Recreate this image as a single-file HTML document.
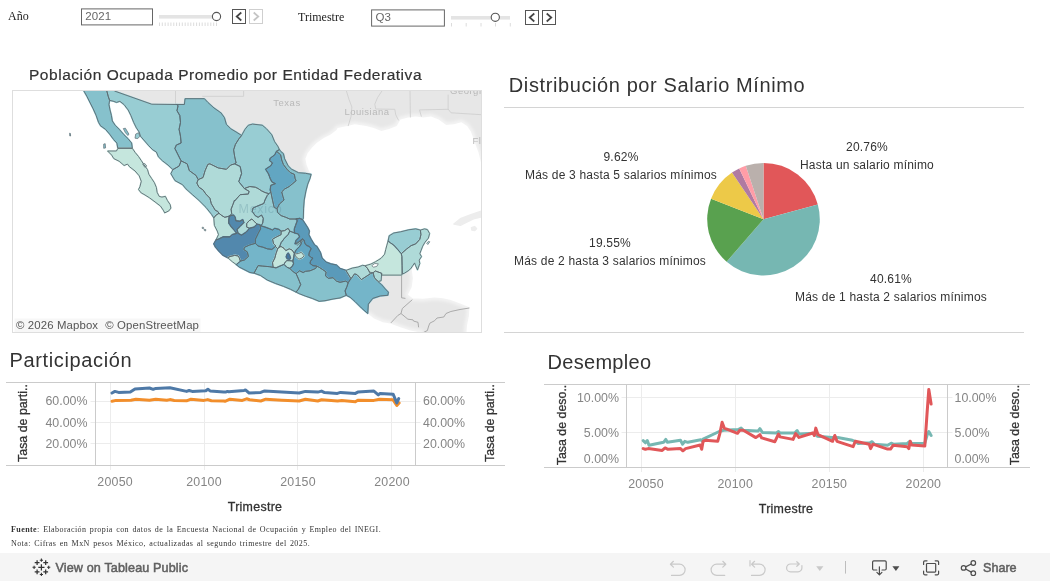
<!DOCTYPE html>
<html lang="es"><head><meta charset="utf-8"><title>Dashboard</title>
<style>
html,body{margin:0;padding:0;background:#fff;}
body{width:1050px;height:581px;position:relative;overflow:hidden;font-family:"Liberation Sans",sans-serif;color:#333;}
.abs{position:absolute;white-space:nowrap;}
.serif{font-family:"Liberation Serif",serif;}
.inp{position:absolute;box-sizing:border-box;border:0;background:transparent;height:17px;width:72px;font-family:"Liberation Sans",sans-serif;font-size:11.5px;color:#666;line-height:16px;padding-left:4px;letter-spacing:0.1px;}
.btn{position:absolute;box-sizing:border-box;width:14px;height:14px;border:1px solid #666;background:#fff;}
.btn.dis{border-color:#ccc;}
.tb{font-size:12.6px;line-height:15px;color:#606060;-webkit-text-stroke:0.5px #606060;}
.title20{font-size:20px;color:#333;}
.lab{letter-spacing:0.2px;font-size:12px;color:#333;text-align:center;line-height:18px;}
.ax{font-size:12px;color:#787878;}
svg{position:absolute;left:0;top:0;}
svg text{font-family:"Liberation Sans",sans-serif;font-size:12px;}
svg text.ax{font-size:12.4px;}
svg text.axt{font-size:12.4px;}
svg text.ax{fill:#858585;}
svg text.axt{fill:#333;stroke:#333;stroke-width:.3px;}
</style></head><body>

<!-- top parameter controls -->
<div class="abs serif" style="left:8px;top:9.3px;font-size:12px;line-height:14px;color:#222;">Año</div>
<div class="inp" style="left:81.3px;top:8.2px;">2021</div>
<div class="abs serif" style="left:298px;top:10.2px;font-size:12px;line-height:14px;color:#222;">Trimestre</div>
<div class="inp" style="left:371.5px;top:9.4px;width:74px;">Q3</div>

<!-- titles -->
<div class="abs" id="t1" style="left:29px;top:64.8px;-webkit-text-stroke:0.2px #333;font-size:15.5px;line-height:20px;letter-spacing:0.53px;">Población Ocupada Promedio por Entidad Federativa</div>
<div class="abs title20" id="t2" style="left:508.8px;top:72.3px;line-height:26px;letter-spacing:0.6px;">Distribución por Salario Mínimo</div>
<div class="abs title20" id="t3" style="left:9.5px;top:347px;line-height:26px;letter-spacing:0.64px;">Participación</div>
<div class="abs title20" id="t4" style="left:547.5px;top:349px;line-height:26px;letter-spacing:0.3px;">Desempleo</div>

<div class="abs" style="left:0;top:553px;width:1050px;height:28px;background:#f5f5f5;"></div>
<!-- MAP -->
<svg id="map" width="1050" height="581" viewBox="0 0 1050 581">
<defs><clipPath id="mc"><rect x="13" y="91" width="468" height="241"/></clipPath><filter id="cb" x="280" y="80" width="220" height="270" filterUnits="userSpaceOnUse"><feGaussianBlur stdDeviation="1.8"/></filter></defs>
<rect x="12.5" y="90.5" width="469" height="242" fill="#fff" stroke="#dedede"/>
<g clip-path="url(#mc)">
<path d="M114.4 88L114.4 91L151.6 104.2L177 104.5L184.4 104.5L185.1 98.7L204.4 98.7L207.8 102.4L214 108L220.9 112.8L224.4 117.6L226.4 124.5L230.5 128.6L236.1 132L241.6 135.5L245 129.3L248.4 125.2L252.6 124.1L262.2 125.2L266.3 128.6L271.8 134.8L274.6 141.7L277.7 146.1L279.4 149.6L280.6 151.3L283.4 153.6L284.6 158.8L288.1 165.8L291.5 169.2L298.4 172.7L305.4 173.3L311.1 174.4L308.8 170.4L306.5 164.6L305.4 158.8L307.7 153.1L312.3 147.3L316.9 142.7L323.8 138.1L330.7 134.6L336.5 130L337.6 128L347.1 126.1L354.8 124.2L366.2 126.1L373.8 128L381.4 130.9L389 129L396.7 126.1L400.5 119.4L408.1 117.5L415.7 116.6L423.3 117.5L431 116.6L438.6 119.4L446.2 125.1L453.8 124.2L461.4 122.3L467.1 126.1L471 131.8L475.7 145.1L478.6 152.8L481.4 164.2L482.4 171.8L484.3 171.8L484.3 88Z" fill="#e7e7e7"/>
<path d="M380 272L403 272L402.5 273.9L404.2 273.3L408.8 270.4L411.1 268.1L414.6 265.8L411.7 269.5L412.9 278.3L411.7 287.1L407.9 294.7L412.9 298.4L418 298.4L422.9 298.7L434.5 297.6L443 298.3L450.8 299.9L460.1 303.4L469.4 307.3L468.9 316.1L467 325.4L465.9 340L420 340L423 333L410.4 330.5L400.4 327.3L390.3 323.6L382.8 322.3L374 318.5L367.7 313.5L367.7 299.7Z" fill="#e7e7e7"/>
<path d="M311.1 174.4L308.8 170.4L306.5 164.6L305.4 158.8L307.7 153.1L312.3 147.3L316.9 142.7L323.8 138.1L330.7 134.6L336.5 130L337.6 128L347.1 126.1L354.8 124.2L366.2 126.1L373.8 128L381.4 130.9L389 129L396.7 126.1L400.5 119.4L408.1 117.5L415.7 116.6L423.3 117.5L431 116.6L438.6 119.4L446.2 125.1L453.8 124.2L461.4 122.3L467.1 126.1L471 131.8L475.7 145.1L478.6 152.8L481.4 164.2M414.6 265.8L411.7 269.5L412.9 278.3L411.7 287.1L407.9 294.7L412.9 298.4L418 298.4L422.9 298.7L434.5 297.6L443 298.3L450.8 299.9L460.1 303.4L469.4 307.3L468.9 316.1L467 325.4L465.9 340M423 333L410.4 330.5L400.4 327.3L390.3 323.6L382.8 322.3L374 318.5L367.7 313.5" fill="none" stroke="#fff" stroke-width="5.5" stroke-opacity=".5" stroke-linejoin="round" filter="url(#cb)"/>
<path d="M453.9 224L460.4 218.8L470.9 214.8L484 210.4L484 216.1L473.5 218.8L465.7 222.7L460.4 225.3ZM471.5 227.6L474.5 226.6L476.5 228.6L474.5 230.6L471.8 230Z" fill="#ededed" stroke="#ededed" stroke-width="1.5" stroke-linejoin="round"/>
<path d="M175.5 88L175.5 104.5M202.3 96.3L243.6 96.3L243.6 88M346.2 90.3L349 99.4L351.9 107L351 116.6L348.1 126.1M382.4 90.3L377.6 97.5L374.8 104.2L375.7 109L394.8 109.3L395.7 114.7L398.6 120.4M410 90.3L410.4 117.5M421.4 116.6L419.5 109.9L448.1 109.3L448.1 94.7M448.1 109L451 112.8L481.4 114.7" fill="none" stroke="#cdcdcd" stroke-width="0.8"/>
<path d="M401.6 275.2L401.6 297.8L405.4 298.4M412.3 299.7L402.3 308.5L401 313.5L397.9 315.4L390.9 322.9M401 313.5L407.9 319.2L412.9 319.8L413.6 321.1L418 322.3L418.6 327.3M423.6 332.4L427.4 330.5L428.7 326L429.9 323.1L434.5 320.8L437 318L443.8 317L446 313.5L450.8 311.5L460 309.5L469.4 308" fill="none" stroke="#9a9a9a" stroke-width="0.8"/>
<path d="M83.9 91L86.9 96.3L90.3 103.1L93.1 108.6L96.2 115.5L98.6 122.4L100.6 125.8L105.5 129.3L109.6 134.1L113.7 139.6L116.9 143L117.8 148.1L132.3 148.1L131.6 143L128.2 138.9L124 134.8L119.2 129.3L115.1 125.2L112.3 121L111.4 115.5L110 110L108.9 104.5L109.6 100.4L108.2 96.3L106.8 91L106.8 88L83.9 88Z" fill="#86c1cc" stroke="#86c1cc" stroke-width="1.6" stroke-linejoin="round"/>
<path d="M117.9 148.3L116.5 151L107.6 151L111.7 155.1L113.8 158.6L119.3 161.3L124.1 165.5L127.5 164.1L129.6 166.8L135.1 171L139.2 175.8L141.3 181.3L139.9 186.8L138.5 189.5L141.3 193L144 194.4L149.5 197.8L155 201.9L160.5 206.1L163.3 210.2L164.7 212.9L168.8 210.9L170.9 208.1L170.2 204.7L167.4 200.5L165.4 196.4L161.9 197.1L159.2 196.4L157.1 192.3L156.4 187.5L154.4 182.7L151.6 178.5L148.9 174.4L147.5 169.6L144 164.8L141.3 160.6L138.5 156.5L135.1 152.4L132.3 148.3Z" fill="#c5e6dd" stroke="#c5e6dd" stroke-width="1.6" stroke-linejoin="round"/>
<path d="M106.8 88L114.4 88L114.4 91L151.6 104.2L177 104.5L177 104.5L178 105.9L177 110.7L179.8 115.5L180.5 122.4L179.1 129.3L180.5 136.2L181.1 143L176.3 145.1L174.9 148.5L177.7 154.1L181.1 160.9L181.1 160.9L179.1 166.1L172.9 169.6L172.9 169.6L168.1 165.1L162.6 160.9L158.4 156.8L156.4 152L152.9 149.9L148.8 145.8L144.7 141L140.5 136.2L139.2 132L136.4 127.9L133.7 122.4L130.9 115.5L128.2 110L124 104.5L119.9 101.3L116.5 102.4L113 101.1L109.6 100.4L109.6 100.4L108.2 96.3L106.8 91Z" fill="#98cdd3" stroke="#98cdd3" stroke-width="1.6" stroke-linejoin="round"/>
<path d="M177 104.5L184.4 104.5L185.1 98.7L204.4 98.7L207.8 102.4L214 108L220.9 112.8L224.4 117.6L226.4 124.5L230.5 128.6L236.1 132L241.6 135.5L241.6 135.5L238.8 138.9L235.4 144.4L233.6 149.9L234.7 156.8L236.1 163L234.7 163.8L234.7 163.8L230.5 165.1L226.4 169.3L218.2 167.9L209.9 163.8L207.8 164.4L205.1 170.6L203 177.5L198.2 179.6L198.2 179.6L196.1 175.5L189.3 170.6L187.2 163.8L181.1 160.9L181.1 160.9L177.7 154.1L174.9 148.5L176.3 145.1L181.1 143L180.5 136.2L179.1 129.3L180.5 122.4L179.8 115.5L177 110.7L178 105.9L177 104.5Z" fill="#86c1cc" stroke="#86c1cc" stroke-width="1.6" stroke-linejoin="round"/>
<path d="M181.1 160.9L187.2 163.8L189.3 170.6L196.1 175.5L198.2 179.6L198.2 179.6L196.8 183L198.9 187.2L203 189.9L205.8 194L209.9 198.2L211.3 203.7L215.4 210.5L217.5 211.2L219 213.3L216.1 215L213.8 217.9L213.8 217.9L211.5 214.3L206 207.4L199.1 200.5L192.2 194.4L186 188.9L182.6 184.7L175 180.6L170.9 173.7L172.9 169.6L172.9 169.6L179.1 166.1L181.1 160.9Z" fill="#98cdd3" stroke="#98cdd3" stroke-width="1.6" stroke-linejoin="round"/>
<path d="M198.2 179.6L203 177.5L205.1 170.6L207.8 164.4L209.9 163.8L218.2 167.9L226.4 169.3L230.5 165.1L234.7 163.8L234.7 163.8L240.2 166.5L241.6 173.4L238.8 181.6L244.3 188.5L244.3 188.5L249.1 191.3L248.4 194L240.2 194.7L234.7 200.9L234.6 200L232.9 204.6L231.1 209.2L231.7 213.8L229.4 216.1L229.4 216.1L224.8 217.3L221.9 215.6L219 213.3L217.5 211.2L215.4 210.5L211.3 203.7L209.9 198.2L205.8 194L203 189.9L198.9 187.2L196.8 183L198.2 179.6Z" fill="#afdad8" stroke="#afdad8" stroke-width="1.6" stroke-linejoin="round"/>
<path d="M241.6 135.5L245 129.3L248.4 125.2L252.6 124.1L262.2 125.2L266.3 128.6L271.8 134.8L274.6 141.7L277.7 146.1L279.4 149.6L276.5 151.3L274.8 154.8L270.2 158.3L269.6 160.6L272.5 162.9L270.8 165.8L265.6 169.2L268.5 173.8L270.2 178.4L271.9 181.9L275.4 183.6L270.8 185.4L270.2 190L270.8 191.9L269 193.7L269 193.7L265 192.5L261.5 190.8L258.1 188.5L255.3 187.2L249.8 186.5L244.3 188.5L244.3 188.5L238.8 181.6L241.6 173.4L240.2 166.5L234.7 163.8L234.7 163.8L236.1 163L234.7 156.8L233.6 149.9L235.4 144.4L238.8 138.9L241.6 135.5Z" fill="#98cdd3" stroke="#98cdd3" stroke-width="1.6" stroke-linejoin="round"/>
<path d="M276.5 151.3L280.6 154.8L281.7 160L283.4 164.6L286.9 169.2L290.4 172.7L294.4 174.4L295 178.4L296.1 180.7L292.7 183.6L289.2 186.5L284.6 189L281.7 191.9L282.9 196.5L284 200L279.4 204L277.1 208.6L277.1 208.6L274.2 207.5L272.5 200L270.8 191.9L270.2 190L270.8 185.4L275.4 183.6L271.9 181.9L270.2 178.4L268.5 173.8L265.6 169.2L270.8 165.8L272.5 162.9L269.6 160.6L270.2 158.3L274.8 154.8L276.5 151.3Z" fill="#62a6c2" stroke="#62a6c2" stroke-width="1.6" stroke-linejoin="round"/>
<path d="M279.4 149.6L280.6 151.3L283.4 153.6L284.6 158.8L288.1 165.8L291.5 169.2L298.4 172.7L305.4 173.3L311.1 174.4L311.1 174.4L310 178.4L307.7 184.2L305.9 191.1L304.2 200L303.6 208.1L303.3 218.4L302.5 219.6L302.5 219.6L299.6 218.4L296.1 219L289.8 219L285.8 217.3L281.1 215.6L277.7 212.7L277.1 208.6L277.1 208.6L279.4 204L284 200L282.9 196.5L281.7 191.9L284.6 189L289.2 186.5L292.7 183.6L296.1 180.7L295 178.4L294.4 174.4L290.4 172.7L286.9 169.2L283.4 164.6L281.7 160L280.6 154.8L276.5 151.3L279.4 149.6Z" fill="#86c1cc" stroke="#86c1cc" stroke-width="1.6" stroke-linejoin="round"/>
<path d="M244.3 188.5L249.8 186.5L255.3 187.2L258.1 188.5L261.5 190.8L265 192.5L269 193.7L269 193.7L267.3 195.4L265 200L263.8 203.5L256.9 206.3L252.9 208.1L252.3 211.5L255.2 215.6L258.1 217.3L261.5 215L263.3 218.4L262.7 223.1L261 225.9L260 224.8L257.1 224.2L254.8 221.9L251.9 219L249 220.8L246.7 223.6L246.7 227.1L249.6 228.3L246.1 232.3L241.5 235.2L238.1 233.4L236.9 229.4L240.4 226L243.8 222.5L242.7 219.6L239.8 221.3L235.8 220.8L235.2 217.3L233.4 215L229.4 216.1L231.7 213.8L231.1 209.2L232.9 204.6L234.6 200L234.7 200.9L240.2 194.7L248.4 194L249.1 191.3L244.3 188.5Z" fill="#afdad8" stroke="#afdad8" stroke-width="1.6" stroke-linejoin="round"/>
<path d="M246.7 223.6L249 220.8L251.9 219L254.8 221.9L257.1 224.2L254.2 227.1L249.6 228.3L246.7 227.1Z" fill="#b9e0da" stroke="#b9e0da" stroke-width="1.6" stroke-linejoin="round"/>
<path d="M269 193.7L270.8 191.9L272.5 200L274.2 207.5L277.1 208.6L277.1 208.6L277.7 212.7L281.1 215.6L285.8 217.3L289.8 219L296.1 219L299.6 218.4L296.1 219L297.3 220.8L295.6 225.4L294.4 228.8L294.4 232.9L289.8 231.1L288.1 228.3L284.6 230.6L281.1 231.1L278.8 229.4L274.8 228.3L272.5 230L269.6 228.8L265 227.1L261 225.9L261 225.9L262.7 223.1L263.3 218.4L261.5 215L258.1 217.3L255.2 215.6L252.3 211.5L252.9 208.1L256.9 206.3L263.8 203.5L265 200L267.3 195.4L269 193.7Z" fill="#98cdd3" stroke="#98cdd3" stroke-width="1.6" stroke-linejoin="round"/>
<path d="M213.8 217.9L216.1 215L219 213.3L219 213.3L221.9 215.6L224.8 217.3L229.4 216.1L228.8 220.2L228.8 223.1L231.1 226.5L234.6 230.6L236.9 233.4L232.3 234.6L230 236.9L223.1 236.9L218.5 239.2L216.1 239.8L218.5 234.6L217.3 231.1L214.4 225.4Z" fill="#b9e0da" stroke="#b9e0da" stroke-width="1.6" stroke-linejoin="round"/>
<path d="M216.1 239.8L218.5 239.2L223.1 236.9L230 236.9L232.3 234.6L236.9 233.4L234.6 230.6L231.1 226.5L228.8 223.1L228.8 220.2L229.4 216.1L233.4 215L235.2 217.3L235.8 220.8L239.8 221.3L242.7 219.6L243.8 222.5L240.4 226L236.9 229.4L238.1 233.4L241.5 235.2L246.1 232.3L249.6 228.3L254.2 227.1L257.1 224.2L260 224.8L260.6 228.8L258.2 233.4L255.4 239.2L255.4 243.3L249.6 245L244.4 247.3L243.8 249.6L247.3 251.9L248.4 256.5L244.4 260L240.4 261.1L239.2 257.7L238.1 255.9L234.6 255.4L230 256.5L227.7 257.7L223.1 255.4L219 251.3L215.6 247.3L213.8 243.8Z" fill="#5288ad" stroke="#5288ad" stroke-width="1.6" stroke-linejoin="round"/>
<path d="M227.7 257.7L230 256.5L234.6 255.4L238.1 255.9L239.2 257.7L240.4 261.1L238.6 262.9L236.3 264.6L232.3 261.7Z" fill="#c5e6dd" stroke="#c5e6dd" stroke-width="1.6" stroke-linejoin="round"/>
<path d="M236.3 264.6L238.6 262.9L240.4 261.1L244.4 260L248.4 256.5L247.3 251.9L243.8 249.6L244.4 247.3L249.6 245L255.4 243.3L258.1 246L262.7 247.1L267.3 248.8L271.9 249.4L275.4 246.5L275.4 246.5L277.7 248.8L276 253.5L274.8 258.1L272.5 262.7L273.1 267.3L273.1 267.3L269.6 266.7L262.7 266.1L258.1 265.6L254 273.1L250 272.5L239.2 267Z" fill="#74b5c9" stroke="#74b5c9" stroke-width="1.6" stroke-linejoin="round"/>
<path d="M261 225.9L265 227.1L269.6 228.8L272.5 230L274.8 228.3L278.8 229.4L281.1 231.1L281.1 234.6L276.5 236.9L272.5 239.2L273.6 243.8L276 246.1L275.4 246.5L271.9 249.4L267.3 248.8L262.7 247.1L258.1 246L255.4 243.3L255.4 243.3L255.4 239.2L258.2 233.4L260.6 228.8L260 224.8Z" fill="#62a6c2" stroke="#62a6c2" stroke-width="1.6" stroke-linejoin="round"/>
<path d="M281.1 231.1L284.6 230.6L288.1 228.3L289.8 231.1L288.1 234.6L284.6 238.1L281.1 242.7L279.4 247.3L277.7 248.8L275.4 246.5L276 246.1L273.6 243.8L272.5 239.2L276.5 236.9L281.1 234.6L281.1 231.1Z" fill="#afdad8" stroke="#afdad8" stroke-width="1.6" stroke-linejoin="round"/>
<path d="M289.8 231.1L294.4 232.9L298.4 234L299.6 236.9L296.1 240.4L295 243.8L298.4 242.7L301.9 239.2L302.5 239L300.7 240.8L301.3 243.7L299.6 246.5L296.1 250L294.4 253.5L292.1 250L289.2 248.8L285.8 250.6L284 248.3L281.1 246.5L278.8 247.1L279.4 247.3L281.1 242.7L284.6 238.1L288.1 234.6Z" fill="#98cdd3" stroke="#98cdd3" stroke-width="1.6" stroke-linejoin="round"/>
<path d="M278.8 247.1L281.1 246.5L284 248.3L285.8 250.6L289.2 248.8L292.1 250L294.4 253.5L293.6 258.1L292.9 261L289.8 260.6L286.9 260.6L285.2 262.1L284 264.4L280 266.1L276 267.9L273.1 267.3L272.5 262.7L274.8 258.1L276 253.5L277.7 248.8Z" fill="#c5e6dd" stroke="#c5e6dd" stroke-width="1.6" stroke-linejoin="round"/>
<path d="M288.2 253L289.6 255.5L290.5 258.1L289.6 259.3L287.3 258.9L286.2 256.9L287 254.4Z" fill="#4678a3" stroke="#4678a3" stroke-width="1.6" stroke-linejoin="round"/>
<path d="M285.2 262.1L286.9 260.6L292.9 261L293.6 263.8L292.1 266.7L289.8 268.4L286.9 267.3L284 264.4Z" fill="#b9e0da" stroke="#b9e0da" stroke-width="1.6" stroke-linejoin="round"/>
<path d="M294.4 253.5L296.1 250L299.6 246.5L301.3 243.7L300.7 240.8L302.5 239L304.2 240.2L304.8 243.1L306.5 245.4L309.4 246.5L311.1 248.8L309.4 252.3L308.8 255.2L311.1 257.5L312.9 258.1L310.6 261L310 263.3L312.9 265.6L316.9 266.1L315.7 268.4L310 270.8L305.4 271.3L303.1 272.5L299.6 270.8L296.1 273.6L293.3 271.9L289.8 268.4L292.1 266.7L293.6 263.8L292.9 261L293.6 258.1Z" fill="#62a6c2" stroke="#62a6c2" stroke-width="1.6" stroke-linejoin="round"/>
<path d="M294.4 254L298.4 253.5L301.3 252.3L304.2 255.8L301.9 258.1L299 259.2L296.1 256.9Z" fill="#c5e6dd" stroke="#c5e6dd" stroke-width="1.6" stroke-linejoin="round"/>
<path d="M296.1 219L299.6 218.4L302.5 219.6L304.8 223.1L307.7 227.7L309.4 231.1L308.8 234.6L311.1 239.2L314.6 245L316.9 246.5L320.4 252.3L322.1 258.1L326.1 262.1L330.7 263.8L336.5 265L340 268.4L345.7 270.2L350.7 278.3L348.2 282.7L345.7 281.1L340 282.3L336.5 281.1L333 277.7L328.4 278.3L325.5 275.9L326.1 271.9L322.7 269.6L319.2 267.3L316.9 266.1L316.9 266.1L312.9 265.6L310 263.3L310.6 261L312.9 258.1L311.1 257.5L308.8 255.2L309.4 252.3L311.1 248.8L309.4 246.5L306.5 245.4L304.8 243.1L304.2 240.2L302.5 239L298.4 242.7L295 243.8L296.1 240.4L299.6 236.9L298.4 234L294.4 232.9L294.4 228.8L295.6 225.4L297.3 220.8Z" fill="#5a9aba" stroke="#5a9aba" stroke-width="1.6" stroke-linejoin="round"/>
<path d="M254 273.1L258.1 265.6L262.7 266.1L269.6 266.7L273.1 267.3L276 267.9L280 266.1L284 264.4L286.9 267.3L289.8 268.4L293.3 271.9L296.1 273.6L298.4 278.8L300.7 284.6L298.4 289.2L296.1 292.1L290.4 289.2L283.4 286.3L275.4 283.4L267.3 280L260.4 275.4Z" fill="#86c1cc" stroke="#86c1cc" stroke-width="1.6" stroke-linejoin="round"/>
<path d="M296.1 273.6L299.6 270.8L303.1 272.5L305.4 271.3L310 270.8L315.7 268.4L316.9 266.1L319.2 267.3L322.7 269.6L326.1 271.9L325.5 275.9L328.4 278.3L333 277.7L336.5 281.1L340 282.3L345.7 281.1L348.2 282.7L347 286.5L345.1 290.9L346.3 295.3L340 297.9L333 299L325 300.7L319.2 301.3L312.3 298.4L305.4 296.1L299.6 293.8L296.1 292.1L298.4 289.2L300.7 284.6L298.4 278.8L296.1 273.6Z" fill="#86c1cc" stroke="#86c1cc" stroke-width="1.6" stroke-linejoin="round"/>
<path d="M348.2 282.7L351.4 278.3L354.5 273.9L357 274.6L361.4 279.6L370.2 273.9L373.1 272.8L374 277.1L377.8 281.5L381.5 284.6L385.3 289L388.4 292.2L387.8 295.3L380.3 295.9L372.7 298.4L368.3 304.1L367.7 313.5L361.4 307.9L355.1 301.6L350.1 297.2L346.3 295.3L345.1 290.9L347 286.5Z" fill="#74b5c9" stroke="#74b5c9" stroke-width="1.6" stroke-linejoin="round"/>
<path d="M346 270.4L352.3 268.1L358.1 267L362.7 265.3L365 265.8L367.3 268.1L369.6 272.2L370.2 273.9L361.4 279.6L357 274.6L354.5 273.9L351.4 278.3L350.7 278.3Z" fill="#afdad8" stroke="#afdad8" stroke-width="1.6" stroke-linejoin="round"/>
<path d="M373.1 272.7L375.4 271L381.7 273.3L381.1 280.8L378.3 281.4L374.8 278.5Z" fill="#afdad8" stroke="#afdad8" stroke-width="1.6" stroke-linejoin="round"/>
<path d="M388.1 241L390.4 242.8L393.8 245.1L397.9 249.7L401.3 253.7L401.9 256.6L402.1 265.8L401.9 275.1L381.7 275.1L381.7 273.3L375.4 271L373.1 272.7L369.6 272.2L367.3 268.1L365 265.8L370.8 264.1L375.4 261.8L381.1 258.3L384.6 254.3L385.7 249.7L386.9 245.1Z" fill="#c5e6dd" stroke="#c5e6dd" stroke-width="1.6" stroke-linejoin="round"/>
<path d="M388.1 241L389.2 235.8L393.8 233L400.7 231.8L408.8 229.8L415.7 228.9L420.4 230.1L420.9 234.7L419.8 239.3L415.7 243.9L411.1 245.6L406.5 249.1L401.3 253.7L397.9 249.7L393.8 245.1L390.4 242.8Z" fill="#98cdd3" stroke="#98cdd3" stroke-width="1.6" stroke-linejoin="round"/>
<path d="M420.4 230.1L424.4 228.9L427.3 229.5L429.6 233.5L428.4 238.1L425 242.2L422.7 246.2L420.9 250.8L419.8 253.7L421.5 256.6L419.2 260.1L419.8 263.5L417.5 269.9L415.7 265.8L414.6 262.9L411.1 268.1L408.8 270.4L404.2 273.3L402.5 273.9L402.1 265.8L401.9 256.6L401.3 253.7L406.5 249.1L411.1 245.6L415.7 243.9L419.8 239.3L420.9 234.7Z" fill="#afdad8" stroke="#afdad8" stroke-width="1.6" stroke-linejoin="round"/>
<path d="M123.3 128.6L125.4 128.2L128.9 134.1L127.9 135.5L125.4 132.7Z" fill="#86c1cc"/>
<path d="M135.7 134.1L138.5 132.7L139.9 136.2L137.8 138.6L135 138.2Z" fill="#98cdd3"/>
<path d="M103.7 144.1L105.2 143.7L105.6 147.9L103.7 148.3Z" fill="#86c1cc"/>
<path d="M426.7 243.3L428.4 241.4L429.8 241.8L427.8 244.5Z" fill="#afdad8"/>
<path d="M142.7 164.1L144.7 163.4L146.8 166.1L144.7 167.2Z" fill="#c5e6dd"/>
<path d="M295.3 243.6L301.8 239.4L303.2 240.9L297 245.4Z" fill="#98cdd3"/>
<path d="M69.6 133.2L70.4 133.4L70.6 136L69.8 136Z" fill="#86c1cc"/>
<path d="M202.2 227.2L203.6 227.4L203.4 228.8L202.2 228.4Z" fill="#b9e0da"/>
<path d="M204.2 229.2L205.8 229.6L205.6 231L204.4 230.6Z" fill="#b9e0da"/>
<path d="M371.9 265.6L374.8 263.5L378.3 263.8L376.8 266.4L373.3 267.2Z" fill="#fff"/>
<path d="M83.9 91L86.9 96.3L90.3 103.1L93.1 108.6L96.2 115.5L98.6 122.4L100.6 125.8L105.5 129.3L109.6 134.1L113.7 139.6L116.9 143L117.8 148.1L132.3 148.1L131.6 143L128.2 138.9L124 134.8L119.2 129.3L115.1 125.2L112.3 121L111.4 115.5L110 110L108.9 104.5L109.6 100.4L108.2 96.3L106.8 91L106.8 88L83.9 88ZM117.9 148.3L116.5 151L107.6 151L111.7 155.1L113.8 158.6L119.3 161.3L124.1 165.5L127.5 164.1L129.6 166.8L135.1 171L139.2 175.8L141.3 181.3L139.9 186.8L138.5 189.5L141.3 193L144 194.4L149.5 197.8L155 201.9L160.5 206.1L163.3 210.2L164.7 212.9L168.8 210.9L170.9 208.1L170.2 204.7L167.4 200.5L165.4 196.4L161.9 197.1L159.2 196.4L157.1 192.3L156.4 187.5L154.4 182.7L151.6 178.5L148.9 174.4L147.5 169.6L144 164.8L141.3 160.6L138.5 156.5L135.1 152.4L132.3 148.3ZM106.8 88L114.4 88L114.4 91L151.6 104.2L177 104.5L177 104.5L178 105.9L177 110.7L179.8 115.5L180.5 122.4L179.1 129.3L180.5 136.2L181.1 143L176.3 145.1L174.9 148.5L177.7 154.1L181.1 160.9L181.1 160.9L179.1 166.1L172.9 169.6L172.9 169.6L168.1 165.1L162.6 160.9L158.4 156.8L156.4 152L152.9 149.9L148.8 145.8L144.7 141L140.5 136.2L139.2 132L136.4 127.9L133.7 122.4L130.9 115.5L128.2 110L124 104.5L119.9 101.3L116.5 102.4L113 101.1L109.6 100.4L109.6 100.4L108.2 96.3L106.8 91ZM177 104.5L184.4 104.5L185.1 98.7L204.4 98.7L207.8 102.4L214 108L220.9 112.8L224.4 117.6L226.4 124.5L230.5 128.6L236.1 132L241.6 135.5L241.6 135.5L238.8 138.9L235.4 144.4L233.6 149.9L234.7 156.8L236.1 163L234.7 163.8L234.7 163.8L230.5 165.1L226.4 169.3L218.2 167.9L209.9 163.8L207.8 164.4L205.1 170.6L203 177.5L198.2 179.6L198.2 179.6L196.1 175.5L189.3 170.6L187.2 163.8L181.1 160.9L181.1 160.9L177.7 154.1L174.9 148.5L176.3 145.1L181.1 143L180.5 136.2L179.1 129.3L180.5 122.4L179.8 115.5L177 110.7L178 105.9L177 104.5ZM181.1 160.9L187.2 163.8L189.3 170.6L196.1 175.5L198.2 179.6L198.2 179.6L196.8 183L198.9 187.2L203 189.9L205.8 194L209.9 198.2L211.3 203.7L215.4 210.5L217.5 211.2L219 213.3L216.1 215L213.8 217.9L213.8 217.9L211.5 214.3L206 207.4L199.1 200.5L192.2 194.4L186 188.9L182.6 184.7L175 180.6L170.9 173.7L172.9 169.6L172.9 169.6L179.1 166.1L181.1 160.9ZM198.2 179.6L203 177.5L205.1 170.6L207.8 164.4L209.9 163.8L218.2 167.9L226.4 169.3L230.5 165.1L234.7 163.8L234.7 163.8L240.2 166.5L241.6 173.4L238.8 181.6L244.3 188.5L244.3 188.5L249.1 191.3L248.4 194L240.2 194.7L234.7 200.9L234.6 200L232.9 204.6L231.1 209.2L231.7 213.8L229.4 216.1L229.4 216.1L224.8 217.3L221.9 215.6L219 213.3L217.5 211.2L215.4 210.5L211.3 203.7L209.9 198.2L205.8 194L203 189.9L198.9 187.2L196.8 183L198.2 179.6ZM241.6 135.5L245 129.3L248.4 125.2L252.6 124.1L262.2 125.2L266.3 128.6L271.8 134.8L274.6 141.7L277.7 146.1L279.4 149.6L276.5 151.3L274.8 154.8L270.2 158.3L269.6 160.6L272.5 162.9L270.8 165.8L265.6 169.2L268.5 173.8L270.2 178.4L271.9 181.9L275.4 183.6L270.8 185.4L270.2 190L270.8 191.9L269 193.7L269 193.7L265 192.5L261.5 190.8L258.1 188.5L255.3 187.2L249.8 186.5L244.3 188.5L244.3 188.5L238.8 181.6L241.6 173.4L240.2 166.5L234.7 163.8L234.7 163.8L236.1 163L234.7 156.8L233.6 149.9L235.4 144.4L238.8 138.9L241.6 135.5ZM276.5 151.3L280.6 154.8L281.7 160L283.4 164.6L286.9 169.2L290.4 172.7L294.4 174.4L295 178.4L296.1 180.7L292.7 183.6L289.2 186.5L284.6 189L281.7 191.9L282.9 196.5L284 200L279.4 204L277.1 208.6L277.1 208.6L274.2 207.5L272.5 200L270.8 191.9L270.2 190L270.8 185.4L275.4 183.6L271.9 181.9L270.2 178.4L268.5 173.8L265.6 169.2L270.8 165.8L272.5 162.9L269.6 160.6L270.2 158.3L274.8 154.8L276.5 151.3ZM279.4 149.6L280.6 151.3L283.4 153.6L284.6 158.8L288.1 165.8L291.5 169.2L298.4 172.7L305.4 173.3L311.1 174.4L311.1 174.4L310 178.4L307.7 184.2L305.9 191.1L304.2 200L303.6 208.1L303.3 218.4L302.5 219.6L302.5 219.6L299.6 218.4L296.1 219L289.8 219L285.8 217.3L281.1 215.6L277.7 212.7L277.1 208.6L277.1 208.6L279.4 204L284 200L282.9 196.5L281.7 191.9L284.6 189L289.2 186.5L292.7 183.6L296.1 180.7L295 178.4L294.4 174.4L290.4 172.7L286.9 169.2L283.4 164.6L281.7 160L280.6 154.8L276.5 151.3L279.4 149.6ZM244.3 188.5L249.8 186.5L255.3 187.2L258.1 188.5L261.5 190.8L265 192.5L269 193.7L269 193.7L267.3 195.4L265 200L263.8 203.5L256.9 206.3L252.9 208.1L252.3 211.5L255.2 215.6L258.1 217.3L261.5 215L263.3 218.4L262.7 223.1L261 225.9L260 224.8L257.1 224.2L254.8 221.9L251.9 219L249 220.8L246.7 223.6L246.7 227.1L249.6 228.3L246.1 232.3L241.5 235.2L238.1 233.4L236.9 229.4L240.4 226L243.8 222.5L242.7 219.6L239.8 221.3L235.8 220.8L235.2 217.3L233.4 215L229.4 216.1L231.7 213.8L231.1 209.2L232.9 204.6L234.6 200L234.7 200.9L240.2 194.7L248.4 194L249.1 191.3L244.3 188.5ZM246.7 223.6L249 220.8L251.9 219L254.8 221.9L257.1 224.2L254.2 227.1L249.6 228.3L246.7 227.1ZM269 193.7L270.8 191.9L272.5 200L274.2 207.5L277.1 208.6L277.1 208.6L277.7 212.7L281.1 215.6L285.8 217.3L289.8 219L296.1 219L299.6 218.4L296.1 219L297.3 220.8L295.6 225.4L294.4 228.8L294.4 232.9L289.8 231.1L288.1 228.3L284.6 230.6L281.1 231.1L278.8 229.4L274.8 228.3L272.5 230L269.6 228.8L265 227.1L261 225.9L261 225.9L262.7 223.1L263.3 218.4L261.5 215L258.1 217.3L255.2 215.6L252.3 211.5L252.9 208.1L256.9 206.3L263.8 203.5L265 200L267.3 195.4L269 193.7ZM213.8 217.9L216.1 215L219 213.3L219 213.3L221.9 215.6L224.8 217.3L229.4 216.1L228.8 220.2L228.8 223.1L231.1 226.5L234.6 230.6L236.9 233.4L232.3 234.6L230 236.9L223.1 236.9L218.5 239.2L216.1 239.8L218.5 234.6L217.3 231.1L214.4 225.4ZM216.1 239.8L218.5 239.2L223.1 236.9L230 236.9L232.3 234.6L236.9 233.4L234.6 230.6L231.1 226.5L228.8 223.1L228.8 220.2L229.4 216.1L233.4 215L235.2 217.3L235.8 220.8L239.8 221.3L242.7 219.6L243.8 222.5L240.4 226L236.9 229.4L238.1 233.4L241.5 235.2L246.1 232.3L249.6 228.3L254.2 227.1L257.1 224.2L260 224.8L260.6 228.8L258.2 233.4L255.4 239.2L255.4 243.3L249.6 245L244.4 247.3L243.8 249.6L247.3 251.9L248.4 256.5L244.4 260L240.4 261.1L239.2 257.7L238.1 255.9L234.6 255.4L230 256.5L227.7 257.7L223.1 255.4L219 251.3L215.6 247.3L213.8 243.8ZM227.7 257.7L230 256.5L234.6 255.4L238.1 255.9L239.2 257.7L240.4 261.1L238.6 262.9L236.3 264.6L232.3 261.7ZM236.3 264.6L238.6 262.9L240.4 261.1L244.4 260L248.4 256.5L247.3 251.9L243.8 249.6L244.4 247.3L249.6 245L255.4 243.3L258.1 246L262.7 247.1L267.3 248.8L271.9 249.4L275.4 246.5L275.4 246.5L277.7 248.8L276 253.5L274.8 258.1L272.5 262.7L273.1 267.3L273.1 267.3L269.6 266.7L262.7 266.1L258.1 265.6L254 273.1L250 272.5L239.2 267ZM261 225.9L265 227.1L269.6 228.8L272.5 230L274.8 228.3L278.8 229.4L281.1 231.1L281.1 234.6L276.5 236.9L272.5 239.2L273.6 243.8L276 246.1L275.4 246.5L271.9 249.4L267.3 248.8L262.7 247.1L258.1 246L255.4 243.3L255.4 243.3L255.4 239.2L258.2 233.4L260.6 228.8L260 224.8ZM281.1 231.1L284.6 230.6L288.1 228.3L289.8 231.1L288.1 234.6L284.6 238.1L281.1 242.7L279.4 247.3L277.7 248.8L275.4 246.5L276 246.1L273.6 243.8L272.5 239.2L276.5 236.9L281.1 234.6L281.1 231.1ZM289.8 231.1L294.4 232.9L298.4 234L299.6 236.9L296.1 240.4L295 243.8L298.4 242.7L301.9 239.2L302.5 239L300.7 240.8L301.3 243.7L299.6 246.5L296.1 250L294.4 253.5L292.1 250L289.2 248.8L285.8 250.6L284 248.3L281.1 246.5L278.8 247.1L279.4 247.3L281.1 242.7L284.6 238.1L288.1 234.6ZM278.8 247.1L281.1 246.5L284 248.3L285.8 250.6L289.2 248.8L292.1 250L294.4 253.5L293.6 258.1L292.9 261L289.8 260.6L286.9 260.6L285.2 262.1L284 264.4L280 266.1L276 267.9L273.1 267.3L272.5 262.7L274.8 258.1L276 253.5L277.7 248.8ZM288.2 253L289.6 255.5L290.5 258.1L289.6 259.3L287.3 258.9L286.2 256.9L287 254.4ZM285.2 262.1L286.9 260.6L292.9 261L293.6 263.8L292.1 266.7L289.8 268.4L286.9 267.3L284 264.4ZM294.4 253.5L296.1 250L299.6 246.5L301.3 243.7L300.7 240.8L302.5 239L304.2 240.2L304.8 243.1L306.5 245.4L309.4 246.5L311.1 248.8L309.4 252.3L308.8 255.2L311.1 257.5L312.9 258.1L310.6 261L310 263.3L312.9 265.6L316.9 266.1L315.7 268.4L310 270.8L305.4 271.3L303.1 272.5L299.6 270.8L296.1 273.6L293.3 271.9L289.8 268.4L292.1 266.7L293.6 263.8L292.9 261L293.6 258.1ZM294.4 254L298.4 253.5L301.3 252.3L304.2 255.8L301.9 258.1L299 259.2L296.1 256.9ZM296.1 219L299.6 218.4L302.5 219.6L304.8 223.1L307.7 227.7L309.4 231.1L308.8 234.6L311.1 239.2L314.6 245L316.9 246.5L320.4 252.3L322.1 258.1L326.1 262.1L330.7 263.8L336.5 265L340 268.4L345.7 270.2L350.7 278.3L348.2 282.7L345.7 281.1L340 282.3L336.5 281.1L333 277.7L328.4 278.3L325.5 275.9L326.1 271.9L322.7 269.6L319.2 267.3L316.9 266.1L316.9 266.1L312.9 265.6L310 263.3L310.6 261L312.9 258.1L311.1 257.5L308.8 255.2L309.4 252.3L311.1 248.8L309.4 246.5L306.5 245.4L304.8 243.1L304.2 240.2L302.5 239L298.4 242.7L295 243.8L296.1 240.4L299.6 236.9L298.4 234L294.4 232.9L294.4 228.8L295.6 225.4L297.3 220.8ZM254 273.1L258.1 265.6L262.7 266.1L269.6 266.7L273.1 267.3L276 267.9L280 266.1L284 264.4L286.9 267.3L289.8 268.4L293.3 271.9L296.1 273.6L298.4 278.8L300.7 284.6L298.4 289.2L296.1 292.1L290.4 289.2L283.4 286.3L275.4 283.4L267.3 280L260.4 275.4ZM296.1 273.6L299.6 270.8L303.1 272.5L305.4 271.3L310 270.8L315.7 268.4L316.9 266.1L319.2 267.3L322.7 269.6L326.1 271.9L325.5 275.9L328.4 278.3L333 277.7L336.5 281.1L340 282.3L345.7 281.1L348.2 282.7L347 286.5L345.1 290.9L346.3 295.3L340 297.9L333 299L325 300.7L319.2 301.3L312.3 298.4L305.4 296.1L299.6 293.8L296.1 292.1L298.4 289.2L300.7 284.6L298.4 278.8L296.1 273.6ZM348.2 282.7L351.4 278.3L354.5 273.9L357 274.6L361.4 279.6L370.2 273.9L373.1 272.8L374 277.1L377.8 281.5L381.5 284.6L385.3 289L388.4 292.2L387.8 295.3L380.3 295.9L372.7 298.4L368.3 304.1L367.7 313.5L361.4 307.9L355.1 301.6L350.1 297.2L346.3 295.3L345.1 290.9L347 286.5ZM346 270.4L352.3 268.1L358.1 267L362.7 265.3L365 265.8L367.3 268.1L369.6 272.2L370.2 273.9L361.4 279.6L357 274.6L354.5 273.9L351.4 278.3L350.7 278.3ZM373.1 272.7L375.4 271L381.7 273.3L381.1 280.8L378.3 281.4L374.8 278.5ZM388.1 241L390.4 242.8L393.8 245.1L397.9 249.7L401.3 253.7L401.9 256.6L402.1 265.8L401.9 275.1L381.7 275.1L381.7 273.3L375.4 271L373.1 272.7L369.6 272.2L367.3 268.1L365 265.8L370.8 264.1L375.4 261.8L381.1 258.3L384.6 254.3L385.7 249.7L386.9 245.1ZM388.1 241L389.2 235.8L393.8 233L400.7 231.8L408.8 229.8L415.7 228.9L420.4 230.1L420.9 234.7L419.8 239.3L415.7 243.9L411.1 245.6L406.5 249.1L401.3 253.7L397.9 249.7L393.8 245.1L390.4 242.8ZM420.4 230.1L424.4 228.9L427.3 229.5L429.6 233.5L428.4 238.1L425 242.2L422.7 246.2L420.9 250.8L419.8 253.7L421.5 256.6L419.2 260.1L419.8 263.5L417.5 269.9L415.7 265.8L414.6 262.9L411.1 268.1L408.8 270.4L404.2 273.3L402.5 273.9L402.1 265.8L401.9 256.6L401.3 253.7L406.5 249.1L411.1 245.6L415.7 243.9L419.8 239.3L420.9 234.7Z" fill="none" stroke="#5b6b72" stroke-width="0.9" stroke-linejoin="round"/>
<path d="M123.3 128.6L125.4 128.2L128.9 134.1L127.9 135.5L125.4 132.7ZM135.7 134.1L138.5 132.7L139.9 136.2L137.8 138.6L135 138.2ZM103.7 144.1L105.2 143.7L105.6 147.9L103.7 148.3ZM426.7 243.3L428.4 241.4L429.8 241.8L427.8 244.5ZM142.7 164.1L144.7 163.4L146.8 166.1L144.7 167.2ZM295.3 243.6L301.8 239.4L303.2 240.9L297 245.4ZM69.6 133.2L70.4 133.4L70.6 136L69.8 136ZM202.2 227.2L203.6 227.4L203.4 228.8L202.2 228.4ZM204.2 229.2L205.8 229.6L205.6 231L204.4 230.6Z" fill="none" stroke="#5b6b72" stroke-width="0.7" stroke-linejoin="round"/>
<path d="M371.9 265.6L374.8 263.5L378.3 263.8L376.8 266.4L373.3 267.2Z" fill="none" stroke="#5b6b72" stroke-width="0.7"/>
<text x="287" y="106" text-anchor="middle" style="font-size:9.5px;fill:#b9b9b9;letter-spacing:.5px">Texas</text>
<text x="367" y="114.5" text-anchor="middle" style="font-size:9.5px;fill:#b9b9b9;letter-spacing:.5px">Louisiana</text>
<text x="450" y="93.6" style="font-size:9.5px;fill:#b9b9b9;letter-spacing:.5px">Georgia</text>
<text x="472.5" y="144" style="font-size:9.5px;fill:#b9b9b9;letter-spacing:.5px">Florida</text>
<text x="260.5" y="213" text-anchor="middle" style="font-size:12.5px;fill:#5d8f9b;fill-opacity:.3;letter-spacing:.7px">Mexico</text>
</g>
<rect x="14.5" y="318.5" width="186" height="13.5" fill="#f4f4f4" fill-opacity=".75"/>
<text x="16" y="329" style="font-size:11.4px;fill:#555;letter-spacing:.12px">© 2026 Mapbox</text>
<text x="105.3" y="329" style="font-size:11.4px;fill:#555;letter-spacing:.12px">© OpenStreetMap</text>
</svg>

<!-- main svg for charts / controls -->
<svg id="main" width="1050" height="581" viewBox="0 0 1050 581">
<rect x="81.5" y="8.9" width="71" height="16" fill="none" stroke="#666" stroke-width="1"/>
<rect x="371.6" y="9.9" width="72.8" height="16.2" fill="none" stroke="#666" stroke-width="1"/>
<rect x="159" y="15" width="55" height="3.6" fill="#e4e4e4"/>
<path d="M159.5 22.5V26M162.3 22.5V26M165.2 22.5V26M168.1 22.5V26M170.9 22.5V26M173.8 22.5V26M176.6 22.5V26M179.4 22.5V26M182.3 22.5V26M185.2 22.5V26M188 22.5V26M190.8 22.5V26M193.7 22.5V26M196.6 22.5V26M199.4 22.5V26M202.2 22.5V26M205.1 22.5V26M207.9 22.5V26M210.8 22.5V26M213.7 22.5V26M216.5 22.5V26" stroke="#dcdcdc" stroke-width="1" fill="none"/>
<circle cx="216.5" cy="16.5" r="4.1" fill="#fff" stroke="#555" stroke-width="1.1"/>
<rect x="451" y="16" width="59" height="3.6" fill="#e4e4e4"/>
<path d="M451.5 23V26.5M466.2 23V26.5M481 23V26.5M495.5 23V26.5M510.3 23V26.5" stroke="#dcdcdc" stroke-width="1" fill="none"/>
<circle cx="495.3" cy="17.3" r="4.1" fill="#fff" stroke="#555" stroke-width="1.1"/>
<rect x="232.5" y="9.5" width="13" height="14" fill="#fff" stroke="#555" stroke-width="1"/><path d="M241.3 12.5L236.7 16.5L241.3 20.5" fill="none" stroke="#444" stroke-width="1.7"/>
<rect x="249.5" y="9.5" width="13" height="14" fill="#fff" stroke="#cfcfcf" stroke-width="1"/><path d="M253.7 12.5L258.3 16.5L253.7 20.5" fill="none" stroke="#c4c4c4" stroke-width="1.7"/>
<rect x="525.5" y="10.5" width="13" height="14" fill="#fff" stroke="#555" stroke-width="1"/><path d="M534.3 13.5L529.7 17.5L534.3 21.5" fill="none" stroke="#444" stroke-width="1.7"/>
<rect x="542.5" y="10.5" width="13" height="14" fill="#fff" stroke="#555" stroke-width="1"/><path d="M546.7 13.5L551.3 17.5L546.7 21.5" fill="none" stroke="#444" stroke-width="1.7"/>
<path d="M763.5 219.2L763.50 162.90A56.3 56.3 0 0 1 817.81 204.38Z" fill="#e15759"/>
<path d="M763.5 219.2L817.81 204.38A56.3 56.3 0 0 1 726.61 261.73Z" fill="#76b7b2"/>
<path d="M763.5 219.2L726.61 261.73A56.3 56.3 0 0 1 711.05 198.74Z" fill="#59a14f"/>
<path d="M763.5 219.2L711.05 198.74A56.3 56.3 0 0 1 731.97 172.56Z" fill="#edc948"/>
<path d="M763.5 219.2L731.97 172.56A56.3 56.3 0 0 1 739.21 168.41Z" fill="#b07aa1"/>
<path d="M763.5 219.2L739.21 168.41A56.3 56.3 0 0 1 745.77 165.77Z" fill="#ff9da7"/>
<path d="M763.5 219.2L745.77 165.77A56.3 56.3 0 0 1 763.50 162.90Z" fill="#bab0ac"/>
<path d="M504 107.5H1024M504 332.5H1024" stroke="#d4d4d4" stroke-width="1"/>
<path d="M110.5 382V470M204.5 382V470M297.5 382V470M391.5 382V470M90.5 401.5H420.5M90.5 422.5H420.5M90.5 443.5H420.5" stroke="#ececec" stroke-width="1" fill="none"/>
<path d="M6 382.5H505M6 465.5H505M95.5 382V465M415.5 382V465" stroke="#cbcbcb" stroke-width="1" fill="none"/>
<path d="M641.5 385V472M735.5 385V472M829.5 385V472M923.5 385V472M621.5 397.5H952.5M621.5 432.5H952.5" stroke="#ececec" stroke-width="1" fill="none"/>
<path d="M544 384.5H1030M544 467.5H1030M626.5 385V467M947.5 385V467" stroke="#cbcbcb" stroke-width="1" fill="none"/>
<polyline points="112,401.3 116.1,400.4 130.9,400.2 135.9,399.2 149.5,400.2 155.7,399.2 166.8,400.2 169.9,399.6 174.3,400.4 186.6,400.8 191,399.2 204,400.4 207.7,399.6 211.4,400.8 223.8,401 225,401.3 229.9,399.2 242.3,400.4 246.6,398.8 249.7,399.8 260.8,401 265.8,399.2 281.9,400.2 299.2,401 305.4,399.2 317.8,401 321.5,399.8 337.6,401 341.8,400.4 355.4,401.7 357.8,400.2 373.9,400.4 379.5,399.2 393.1,399.8 396.8,405.4 399.1,402.9" fill="none" stroke="#f28e2b" stroke-width="3.0" stroke-linejoin="round" stroke-linecap="round"/>
<polyline points="112,393 114.9,391.4 118.6,392.4 130.3,392 135,388.9 149.5,388 153.2,389.3 155.7,388.4 169.9,387.7 186.6,391.4 189.1,390.5 192.2,391.4 205.8,390.8 207.9,389.3 210.1,390.9 223.8,392 225.6,392.1 227.4,391.4 228.7,391.8 244.1,390.5 245.4,389.9 249.1,393 260.8,392.4 264.6,390.9 281.9,392.1 299.2,393 305.4,391.4 317.8,392.1 321.5,391.1 324.6,392.6 337.4,393.4 340.5,392.4 355.4,393.4 357.8,392.1 373.9,391.1 378.3,394.9 380.1,393.4 393.1,394.2 396.8,402.9 398.7,398.6" fill="none" stroke="#4e79a7" stroke-width="3.0" stroke-linejoin="round" stroke-linecap="round"/>
<polyline points="643.2,440.6 645.4,442.8 647.3,440.6 649,445.3 663.6,442.3 665.8,439.4 667.3,442.3 680.5,440.3 682.6,444.2 684.8,441.3 687.8,442.3 700.9,439.8 702.4,441.3 703.1,439.1 719.2,431.5 723.6,430.3 738.2,429.6 741.1,428.1 743.3,430.3 757.2,431.1 758,431.1 759.9,428.6 762.4,432.5 776.3,433 778.5,431.5 780,433 794.6,433 797.1,430.6 799,434 814.3,433.3 817.3,436.2 831.9,437.6 834.8,436.9 837.7,437.6 852.4,440.3 855.3,441.3 858.2,443.5 869.9,442.8 872.1,441.7 874.4,444.2 887.5,445.3 891.2,443.2 893.4,444.2 907.3,443.5 909.8,441.3 911.7,443.5 924.8,443.2 927,435.5 928.8,431.5 931.1,435.5" fill="none" stroke="#76b7b2" stroke-width="3.0" stroke-linejoin="round" stroke-linecap="round"/>
<polyline points="643.2,448.6 645.4,449.3 648.3,448.6 662.2,450.4 665.1,447.9 668,449.3 680.5,448.6 682.9,450.8 685.6,448.6 700.2,445 701.7,449.3 703.1,441.3 705.3,440.3 717.7,441.3 719.9,433.3 722.1,422.3 724.3,428.1 737.5,433.3 739.7,430.3 743.3,430.3 755.8,437.6 759.9,434.7 761.7,437.9 774.9,441.7 778.5,434 780,436.9 793.1,439.4 795.6,433.6 799,437.4 812.9,433 814.3,435.5 815.8,428.1 818,434.7 832.6,441.3 834.8,435.5 837,441.3 853.1,446.7 855.3,441.3 869.2,444.2 870.6,448.6 872.9,444.2 887.5,449.1 890.5,449.1 893.1,445.3 907.3,446.7 908.8,448.6 910.2,441.3 911.7,445 924.8,446.1 927,414.2 928.8,389.4 931.1,404" fill="none" stroke="#e15759" stroke-width="3.0" stroke-linejoin="round" stroke-linecap="round"/>
<text x="87.5" y="405.2" text-anchor="end" class="ax" >60.00%</text>
<text x="423" y="405.2" text-anchor="start" class="ax" >60.00%</text>
<text x="87.5" y="426.5" text-anchor="end" class="ax" >40.00%</text>
<text x="423" y="426.5" text-anchor="start" class="ax" >40.00%</text>
<text x="87.5" y="447.5" text-anchor="end" class="ax" >20.00%</text>
<text x="423" y="447.5" text-anchor="start" class="ax" >20.00%</text>
<text x="619" y="401.7" text-anchor="end" class="ax" >10.00%</text>
<text x="954.5" y="401.7" text-anchor="start" class="ax" >10.00%</text>
<text x="619" y="436.8" text-anchor="end" class="ax" >5.00%</text>
<text x="954.5" y="436.8" text-anchor="start" class="ax" >5.00%</text>
<text x="619" y="463" text-anchor="end" class="ax" >0.00%</text>
<text x="954.5" y="463" text-anchor="start" class="ax" >0.00%</text>
<text x="115.1" y="485.5" text-anchor="middle" class="ax" style="letter-spacing:.25px">20050</text>
<text x="204" y="485.5" text-anchor="middle" class="ax" style="letter-spacing:.25px">20100</text>
<text x="298" y="485.5" text-anchor="middle" class="ax" style="letter-spacing:.25px">20150</text>
<text x="392" y="485.5" text-anchor="middle" class="ax" style="letter-spacing:.25px">20200</text>
<text x="646" y="487.6" text-anchor="middle" class="ax" style="letter-spacing:.25px">20050</text>
<text x="735.3" y="487.6" text-anchor="middle" class="ax" style="letter-spacing:.25px">20100</text>
<text x="829.4" y="487.6" text-anchor="middle" class="ax" style="letter-spacing:.25px">20150</text>
<text x="923.4" y="487.6" text-anchor="middle" class="ax" style="letter-spacing:.25px">20200</text>
<text x="255" y="510.5" text-anchor="middle" class="axt" style="letter-spacing:.3px">Trimestre</text>
<text x="786" y="513" text-anchor="middle" class="axt" style="letter-spacing:.3px">Trimestre</text>
<text transform="translate(27 423) rotate(-90)" text-anchor="middle" class="axt">Tasa de parti..</text>
<text transform="translate(494 423) rotate(-90)" text-anchor="middle" class="axt">Tasa de parti..</text>
<text transform="translate(566 425) rotate(-90)" text-anchor="middle" class="axt">Tasa de deso..</text>
<text transform="translate(1019 425) rotate(-90)" text-anchor="middle" class="axt">Tasa de deso..</text>
<g fill="none" stroke="#c9c9c9" stroke-width="1.2" stroke-linecap="round" stroke-linejoin="round">
<path d="M671.5 575.4H679.5A5.6 5.6 0 0 0 679.5 564.2H670.6M673.4 561.3L670.4 564.2L673.4 567.1"/>
<path d="M724.7 575.4H716.7A5.6 5.6 0 0 1 716.7 564.2H725.6M722.8 561.3L725.8 564.2L722.8 567.1"/>
<path d="M751.5 575.4H759.5A5.6 5.6 0 0 0 759.5 564.2H751.8M754.6 561.3L751.6 564.2L754.6 567.1M750 560.5V566"/>
<path d="M799 564H790.5A3.9 3.9 0 0 0 790.5 571.8H798A3.9 3.9 0 0 0 801.9 567.9V565.5M796.8 561.7L799.3 564L796.8 566.3"/>
</g>
<path d="M816.2 566.2H823.4L819.8 571Z" fill="#c9c9c9"/>
<path d="M845.5 561V573.6" stroke="#bdbdbd" stroke-width="1"/>
<g fill="none" stroke="#4d4d4d" stroke-width="1.2" stroke-linejoin="round" stroke-linecap="round">
<path d="M876.8 570H873.8A1.2 1.2 0 0 1 872.6 568.8V562A1.2 1.2 0 0 1 873.8 560.8H885A1.2 1.2 0 0 1 886.2 562V568.8A1.2 1.2 0 0 1 885 570H882"/>
<path d="M879.4 566.8V574.6M876.9 572.3L879.4 574.8L881.9 572.3"/>
<path d="M927 560.8H924.8A1.2 1.2 0 0 0 923.6 562V564.4M935.2 560.8H937.4A1.2 1.2 0 0 1 938.6 562V564.4M927 574.8H924.8A1.2 1.2 0 0 1 923.6 573.6V571.2M935.2 574.8H937.4A1.2 1.2 0 0 0 938.6 573.6V571.2"/>
<rect x="926.5" y="563.5" width="9.2" height="8.6" rx="0.8"/>
<path d="M965.6 566.9L971.3 564M965.6 569L971.3 572.1"/>
<circle cx="973.3" cy="563" r="2.3"/><circle cx="963.6" cy="567.9" r="2.3"/><circle cx="973.3" cy="573.2" r="2.3"/>
</g>
<path d="M892.4 566.2H899.4L895.9 570.9Z" fill="#4d4d4d"/>
<path d="M38.3 567.3H44.5M41.4 564.2V570.4M34.7 562.7H39.5M37.1 560.3V565.1M43.3 562.7H48.1M45.7 560.3V565.1M34.7 571.9H39.5M37.1 569.5V574.3M43.3 571.9H48.1M45.7 569.5V574.3" stroke="#333" stroke-width="1.25" fill="none"/>
<path d="M39.8 560.2H43.0M41.4 558.6V561.8M39.8 574.4H43.0M41.4 572.8V576.0M32.5 567.3H35.7M34.1 565.7V568.9M47.1 567.3H50.3M48.7 565.7V568.9" stroke="#333" stroke-width="1.05" fill="none"/>
</svg>

<!-- pie labels -->
<div class="abs lab" id="l1" style="left:767px;top:138px;width:200px;">20.76%<br>Hasta un salario mínimo</div>
<div class="abs lab" id="l2" style="left:791px;top:270px;width:200px;">40.61%<br>Más de 1 hasta 2 salarios mínimos</div>
<div class="abs lab" id="l3" style="left:510px;top:234px;width:200px;">19.55%<br>Más de 2 hasta 3 salarios mínimos</div>
<div class="abs lab" id="l4" style="left:521px;top:148px;width:200px;">9.62%<br>Más de 3 hasta 5 salarios mínimos</div>

<!-- footer -->
<div class="abs serif" id="f1" style="left:11px;top:524.7px;font-size:8px;line-height:10px;color:#333;letter-spacing:0.42px;word-spacing:1px;"><b>Fuente</b>: Elaboración propia con datos de la Encuesta Nacional de Ocupación y Empleo del INEGI.</div>
<div class="abs serif" id="f2" style="left:11px;top:538.6px;font-size:8px;line-height:10px;color:#333;letter-spacing:0.42px;word-spacing:1px;">Nota: Cifras en MxN pesos México, actualizadas al segundo trimestre del 2025.</div>

<!-- toolbar -->
<div class="abs tb" id="vt" style="left:55.5px;top:560.7px;letter-spacing:0.13px;">View on Tableau Public</div>
<div class="abs tb" id="sh" style="left:983px;top:560.7px;">Share</div>

</body></html>
